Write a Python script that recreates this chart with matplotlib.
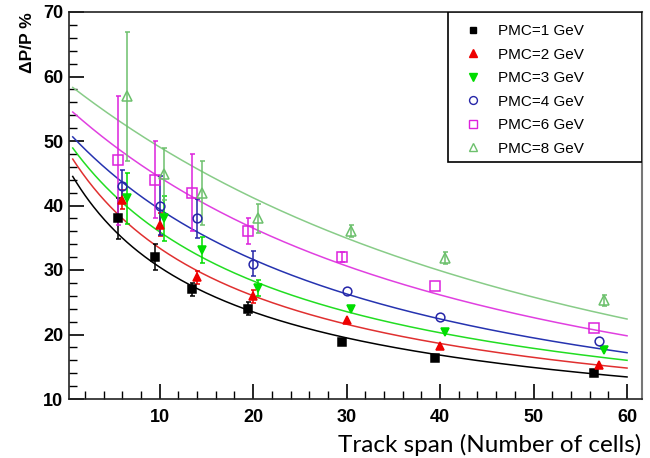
import numpy as np
import matplotlib
matplotlib.use("Agg")
import matplotlib.pyplot as plt
from matplotlib.patches import Rectangle
from matplotlib.lines import Line2D
from matplotlib.ticker import MultipleLocator

# ==============================
# DATA
# ==============================

labels = ["PMC=1 GeV", "PMC=2 GeV", "PMC=3 GeV", "PMC=4 GeV", "PMC=6 GeV", "PMC=8 GeV"]

x_1gev = [5.5, 9.5, 13.5, 19.5, 29.5, 39.5, 56.5]
y_1gev = [38.0, 32.0, 27.0, 24.0, 18.9, 16.4, 14.1]
e_1gev = [3.2, 2.0, 1.0, 1.0, 0.0, 0.0, 0.0]

x_2gev = [6.0, 10.0, 14.0, 20.0, 30.0, 40.0, 57.0]
y_2gev = [40.9, 37.0, 28.9, 25.9, 22.2, 18.2, 15.2]
e_2gev = [1.5, 1.8, 1.0, 1.0, 0.0, 0.0, 0.0]

x_3gev = [6.5, 10.5, 14.5, 20.5, 30.5, 40.5, 57.5]
y_3gev = [41.1, 38.0, 33.1, 27.2, 24.0, 20.4, 17.6]
e_3gev = [4.0, 3.5, 2.0, 1.2, 0.0, 0.0, 0.0]

x_4gev = [6.0, 10.0, 14.0, 20.0, 30.0, 40.0, 57.0]
y_4gev = [43.0, 40.0, 38.0, 31.0, 26.7, 22.7, 19.0]
e_4gev = [2.5, 4.5, 3.0, 2.0, 0.0, 0.0, 0.0]

x_6gev = [5.5, 9.5, 13.5, 19.5, 29.5, 39.5, 56.5]
y_6gev = [47.0, 44.0, 42.0, 36.0, 32.0, 27.5, 21.0]
e_6gev = [10.0, 6.0, 6.0, 2.0, 0.8, 0.0, 0.0]

x_8gev = [6.5, 10.5, 14.5, 20.5, 30.5, 40.5, 57.5]
y_8gev = [56.9, 44.9, 41.9, 38.0, 36.0, 31.9, 25.3]
e_8gev = [10.0, 4.0, 5.0, 2.2, 0.9, 0.9, 0.9]

# fit curves y = A * (x + B) ** (-p), drawn from x = 0.7 to 60
fit_A = [257.7, 355.8, 567.8, 3563.0, 64660.0, 1.1097e8]
fit_B = [12.0, 14.8, 19.5, 38.0, 70.0, 150.0]
fit_p = [0.691, 0.737, 0.8157, 1.1635, 1.6623, 2.883]

# ==============================
# STYLE
# ==============================

marker_col = ["black", "#ee0000", "#00dd00", "#2626a8", "#dd22dd", "#6cc06c"]
line_col = ["black", "#e03030", "#22dd22", "#2633b0", "#e040e0", "#88cc88"]
markers = ["s", "^", "v", "o", "s", "^"]
filled = [True, True, True, False, False, False]
msize = [5.2, 6, 6, 6.3, 6.5, 6.5]

plt.rcParams["font.family"] = ["Liberation Sans", "DejaVu Sans"]

fig = plt.figure(figsize=(6.5, 4.58), dpi=100)
ax = fig.add_axes([69 / 650, 1 - 399 / 458, (642 - 69) / 650, (399 - 12) / 458])

xs_all = [x_1gev, x_2gev, x_3gev, x_4gev, x_6gev, x_8gev]
ys_all = [y_1gev, y_2gev, y_3gev, y_4gev, y_6gev, y_8gev]
es_all = [e_1gev, e_2gev, e_3gev, e_4gev, e_6gev, e_8gev]

xfit = np.linspace(0.7, 60, 400)
for i in range(6):
    yfit = fit_A[i] * (xfit + fit_B[i]) ** (-fit_p[i])
    ax.plot(xfit, yfit, color=line_col[i], lw=1.1, zorder=2)

handles = []
for i in range(6):
    face = marker_col[i] if filled[i] else "none"
    err = np.array(es_all[i])
    has = err > 0
    ax.errorbar(np.array(xs_all[i])[has], np.array(ys_all[i])[has], yerr=err[has],
                fmt="none", ecolor=marker_col[i], elinewidth=1.1, capsize=1.8,
                capthick=1.1, zorder=3)
    ax.plot(xs_all[i], ys_all[i], linestyle="none", marker=markers[i],
            mfc=face, mec=marker_col[i], ms=msize[i], mew=1.1, zorder=4)
    handles.append(Line2D([], [], linestyle="none", marker=markers[i], mfc=face,
                          mec=marker_col[i], ms=msize[i] * 0.9, mew=1.0))

ax.set_xlim(0.3, 61.6)
ax.set_ylim(10, 70)
ax.xaxis.set_minor_locator(MultipleLocator(2))
ax.yaxis.set_minor_locator(MultipleLocator(2))
ax.tick_params(axis="both", which="major", direction="in", length=11, width=1.2,
               labelsize=13, pad=4)
ax.tick_params(axis="both", which="minor", direction="in", length=6, width=1.0)
ax.tick_params(axis="x", which="major", pad=7)
ax.set_xticks([10, 20, 30, 40, 50, 60])
ax.set_xticklabels(["10", "20", "30", "40", "50", "60"], fontweight="bold")
ax.set_yticks([10, 20, 30, 40, 50, 60, 70])
ax.set_yticklabels(["10", "20", "30", "40", "50", "60", "70"], fontweight="bold")

for side in ["left", "bottom", "top"]:
    ax.spines[side].set_linewidth(1.2)
    ax.spines[side].set_color("#222222")
ax.spines["right"].set_linewidth(1.5)
ax.spines["right"].set_color("#777777")

# legend box drawn separately, entries without frame
box_left = (448 - 69) / 573
box_bottom = (399 - 162) / 387
ax.add_patch(Rectangle((box_left, box_bottom), 1 - box_left, 1 - box_bottom,
                       transform=ax.transAxes, fill=True, facecolor="white",
                       edgecolor="black", lw=1.2, zorder=5))
leg = ax.legend(handles=handles, labels=labels, loc="upper left",
                bbox_to_anchor=(box_left + 0.004, 1.0), frameon=False,
                fontsize=11, handlelength=1.4, handletextpad=0.9,
                labelspacing=0.62, borderpad=0.3)
leg.set_zorder(6)

fig.text(27 / 650, 1 - 12 / 458, "\u0394P/P %", rotation=90, ha="center", va="top",
         fontsize=12.5, fontweight="bold")
fig.text(641 / 650, 1 - 452 / 458, "Track span (Number of cells)", ha="right",
         va="baseline", fontsize=17.5, family=["Lato", "DejaVu Sans"])

fig.savefig("out.png", dpi=100)
